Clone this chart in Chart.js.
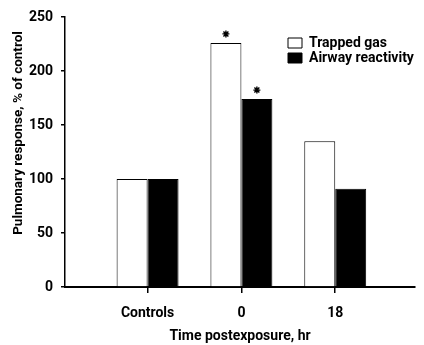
<!DOCTYPE html>
<html>
<head>
<meta charset="utf-8">
<script src="https://cdn.jsdelivr.net/npm/chart.js@4/dist/chart.umd.min.js"></script>
<style>
html, body { margin: 0; padding: 0; background: #fff; }
#wrap { width: 424px; height: 345px; }
</style>
</head>
<body>
<div id="wrap"><canvas id="chart"></canvas></div>
<script>
// data
var categories = ["Controls", "0", "18"];
var trappedGas = [100, 226, 135];
var airwayReactivity = [100, 174, 91];
var trappedStar = [false, true, false];
var airwayStar = [false, true, false];
var yTicks = [0, 50, 100, 150, 200, 250];
var yTitle = "Pulmonary response, % of control";
var xTitle = "Time postexposure, hr";

var FONT = "Roboto, 'Liberation Sans', sans-serif";
Chart.defaults.font.family = FONT;
Chart.defaults.font.weight = "bold";
Chart.defaults.font.size = 14;
Chart.defaults.color = "#000";

var toPoints = function(vals) {
    return vals.map(function(v, i) { return { x: i, y: v }; });
};

var drawStar = function(ctx, x, y, r) {
    ctx.save();
    ctx.strokeStyle = "#000";
    ctx.lineWidth = 1.4;
    ctx.beginPath();
    for (var k = 0; k < 4; k++) {
        var a = k * Math.PI / 4;
        ctx.moveTo(x - r * Math.cos(a), y - r * Math.sin(a));
        ctx.lineTo(x + r * Math.cos(a), y + r * Math.sin(a));
    }
    ctx.stroke();
    ctx.restore();
};

var extras = {
    id: "extras",
    afterLayout: function(chart) {
        // legend sits inside the plot, top right
        var lg = chart.legend;
        lg.left = 287;
        lg.top = 35;
    },
    afterDatasetsDraw: function(chart) {
        var ctx = chart.ctx;
        [trappedStar, airwayStar].forEach(function(flags, d) {
            var meta = chart.getDatasetMeta(d);
            flags.forEach(function(on, i) {
                if (!on) return;
                var el = meta.data[i];
                drawStar(ctx, el.x, el.y - 9, 3.5);
            });
        });
    },
    afterDraw: function(chart) {
        var ctx = chart.ctx;
        ctx.save();
        ctx.translate(19, 133);
        ctx.rotate(-Math.PI / 2);
        ctx.font = "bold 13.5px " + FONT;
        ctx.fillStyle = "#000";
        ctx.textAlign = "center";
        ctx.textBaseline = "middle";
        ctx.fillText(yTitle, 0, 0);
        ctx.restore();
    }
};

var chart = new Chart(document.getElementById("chart"), {
    type: "bar",
    data: {
        datasets: [{
            label: "Trapped gas",
            data: toPoints(trappedGas),
            backgroundColor: "#fff",
            borderColor: "#000",
            borderWidth: 1,
            borderSkipped: "bottom"
        }, {
            label: "Airway reactivity",
            data: toPoints(airwayReactivity),
            backgroundColor: "#000",
            borderColor: "#000",
            borderWidth: 1,
            borderSkipped: "bottom"
        }]
    },
    options: {
        responsive: true,
        maintainAspectRatio: false,
        animation: false,
        categoryPercentage: 0.66,
        barPercentage: 1.0,
        layout: { padding: { top: 17, right: 9, left: 0, bottom: 0 } },
        plugins: {
            tooltip: { enabled: false },
            legend: {
                position: "chartArea",
                align: "start",
                labels: {
                    boxWidth: 14,
                    boxHeight: 10,
                    padding: 1,
                    font: { size: 14, weight: "bold" },
                    color: "#000"
                }
            }
        },
        scales: {
            x: {
                type: "linear",
                offset: false,
                min: -0.88,
                max: 2.85,
                afterBuildTicks: function(scale) {
                    scale.ticks = categories.map(function(c, i) { return { value: i }; });
                },
                afterFit: function(scale) { scale.height = 58; },
                grid: { offset: false, drawOnChartArea: false, drawTicks: true, tickLength: 6, color: "#000", lineWidth: 1.5 },
                border: { display: true, color: "#000", width: 2 },
                ticks: {
                    padding: 12,
                    color: "#000",
                    font: { size: 14, weight: "bold" },
                    callback: function(v) { return categories[v]; }
                },
                title: {
                    display: true,
                    text: xTitle,
                    color: "#000",
                    font: { size: 14, weight: "bold" },
                    padding: { top: 2, bottom: 0 }
                }
            },
            y: {
                min: 0,
                max: 250,
                afterBuildTicks: function(scale) {
                    scale.ticks = yTicks.map(function(v) { return { value: v }; });
                },
                afterFit: function(scale) { scale.width = 65; },
                grid: { drawOnChartArea: false, drawTicks: true, tickLength: 4, color: "#000", lineWidth: 1.5 },
                border: { display: true, color: "#000", width: 1.5 },
                ticks: { padding: 8, color: "#000", font: { size: 14, weight: "bold" } }
            }
        }
    },
    plugins: [extras]
});
</script>
</body>
</html>
